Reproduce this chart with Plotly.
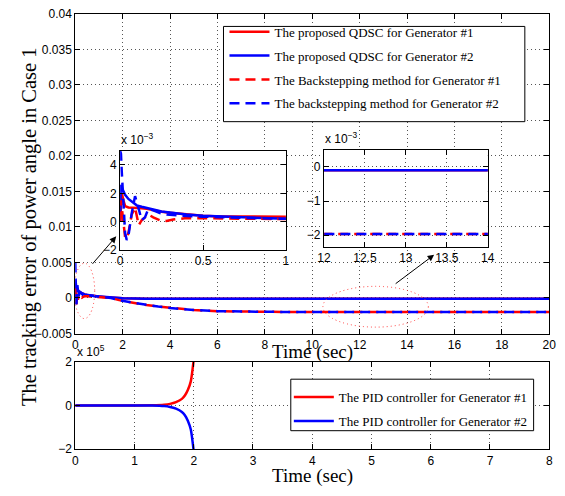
import plotly.graph_objects as go

# ---------------- data ----------------
SCALE_ERR = 1e-3   # values below are in units of 1e-3
SCALE_PID = 1e5    # PID values are in units of 1e5

t_qdsc = [0, 0.004, 0.01, 0.02, 0.03, 0.05, 0.08, 0.1, 0.13, 0.16, 0.2, 0.25, 0.3,
          0.4, 0.5, 0.6, 0.7, 0.8, 0.9, 1.0, 1.3, 1.6, 2.0, 3.0, 5.0, 10.0, 20.0]
qdsc_g1 = [0, 1.0, 2.0, 1.5, 1.1, 1.0, 1.0, 1.0, 0.95, 0.9, 0.8, 0.7, 0.62,
           0.5, 0.42, 0.36, 0.31, 0.27, 0.23, 0.2, 0.1, 0.02, -0.05, -0.1, -0.1, -0.1, -0.1]
qdsc_g2 = [0, 2.6, 2.4, 2.1, 1.9, 1.6, 1.3, 1.15, 1.05, 0.95, 0.85, 0.72, 0.63,
           0.5, 0.42, 0.36, 0.31, 0.27, 0.23, 0.2, 0.1, 0.02, -0.05, -0.1, -0.1, -0.1, -0.1]

t_bs = [0, 0.005, 0.01, 0.02, 0.03, 0.04, 0.05, 0.07, 0.09, 0.112, 0.13, 0.15, 0.17,
        0.2, 0.24, 0.28, 0.32, 0.4, 0.5, 0.6, 0.8, 1.0, 1.5, 1.85, 2.5, 3.0, 3.5,
        4.0, 4.5, 5.0, 6.0, 7.0, 8.0, 10.0, 14.0, 20.0]
bs_g1 = [0, 1.5, 1.0, -0.3, -1.1, -1.2, -0.8, 0.5, 1.0, -0.25, 0.1, 0.3, 0.5,
         0.3, 0.1, 0.05, 0.15, 0.25, 0.25, 0.22, 0.2, 0.18, 0.0, -0.3, -0.7, -1.0, -1.2,
         -1.4, -1.58, -1.7, -1.85, -1.92, -1.95, -1.97, -1.97, -1.97]
bs_g2 = [5.0, 4.8, 3.5, 1.0, -0.8, -1.3, -1.0, 0.6, 1.8, 0.9, 0.1, 0.3, 0.9,
         0.8, 0.6, 0.5, 0.45, 0.4, 0.35, 0.3, 0.25, 0.2, 0.0, -0.3, -0.7, -1.0, -1.2,
         -1.4, -1.58, -1.7, -1.85, -1.92, -1.95, -1.97, -1.97, -1.97]

t_pid = [0, 0.5, 1.0, 1.3, 1.5, 1.6, 1.7, 1.8, 1.85, 1.9, 1.95, 2.0]
pid_g1 = [0, 0, 0, 0.005, 0.03, 0.07, 0.15, 0.3, 0.45, 0.7, 1.1, 2.1]
pid_g2 = [0, 0, 0, -0.005, -0.03, -0.07, -0.15, -0.3, -0.45, -0.7, -1.1, -2.1]

names = ["The proposed QDSC for Generator #1", "The proposed QDSC for Generator #2",
         "The Backstepping method for Generator #1", "The backstepping method for Generator #2"]
pid_names = ["The PID controller for Generator #1", "The PID controller for Generator #2"]

main_yticks = [-0.005, 0, 0.005, 0.01, 0.015, 0.02, 0.025, 0.03, 0.035, 0.04]
main_yticktext = ["\u22120.005", "0", "0.005", "0.01", "0.015", "0.02", "0.025", "0.03", "0.035", "0.04"]

RED = "#ff0000"
BLUE = "#0000ff"
W, H = 565, 496

def px(x):
    return x / W

def py(y):
    return 1 - y / H

def sc(vals, s):
    return [v * s for v in vals]

series = [
    (t_qdsc, sc(qdsc_g1, SCALE_ERR), RED, "solid"),
    (t_qdsc, sc(qdsc_g2, SCALE_ERR), BLUE, "solid"),
    (t_bs, sc(bs_g1, SCALE_ERR), RED, "10px,6px"),
    (t_bs, sc(bs_g2, SCALE_ERR), BLUE, "10px,6px"),
]

fig = go.Figure()
for sub, show in [("", True), ("3", False), ("4", False)]:
    for i, (tx, ty, col, dash) in enumerate(series):
        fig.add_trace(go.Scatter(
            x=tx, y=ty, mode="lines", name=names[i], legendgroup=f"g{i}",
            showlegend=show, legend="legend",
            line=dict(color=col, width=2.5, dash=dash),
            xaxis="x" + sub, yaxis="y" + sub))

for i, (vals, col) in enumerate([(pid_g1, RED), (pid_g2, BLUE)]):
    fig.add_trace(go.Scatter(
        x=t_pid, y=sc(vals, SCALE_PID), mode="lines", name=pid_names[i],
        legendgroup=f"p{i}", legend="legend2",
        line=dict(color=col, width=2.5, shape="spline", smoothing=0.6),
        xaxis="x2", yaxis="y2"))

common = dict(showline=True, linecolor="black", linewidth=1, mirror="ticks",
              ticks="inside", ticklen=5, tickcolor="black", showgrid=True,
              gridcolor="#555", griddash="1px,3px", gridwidth=1, zeroline=False,
              tickfont=dict(family="Liberation Sans", size=12, color="black"))

legfont = dict(family="Liberation Serif", size=13, color="black", weight="normal")

fig.update_layout(
    width=W, height=H, margin=dict(l=0, r=0, t=0, b=0),
    paper_bgcolor="white", plot_bgcolor="white",
    xaxis=dict(domain=[px(70), px(556)], range=[0, 20], tickvals=list(range(0, 21, 2)),
               anchor="y", **common),
    yaxis=dict(domain=[py(336), py(7)], range=[-0.005, 0.04], tickvals=main_yticks,
               ticktext=main_yticktext, anchor="x", **common),
    xaxis2=dict(domain=[px(70), px(556)], range=[0, 8], tickvals=list(range(0, 9)),
                anchor="y2", **common),
    yaxis2=dict(domain=[py(455), py(365)], range=[-2e5, 2e5], tickvals=[-2e5, 0, 2e5],
                ticktext=["\u22122", "0", "2"], anchor="x2", **common),
    xaxis3=dict(domain=[px(116), px(286)], range=[0, 1], tickvals=[0, 0.5, 1],
                anchor="y3", **common),
    yaxis3=dict(domain=[py(250), py(148)], range=[-2e-3, 5e-3], tickvals=[-2e-3, 0, 2e-3, 4e-3],
                ticktext=["\u22122", "0", "2", "4"], anchor="x3", **common),
    xaxis4=dict(domain=[px(325), px(493)], range=[12, 14], tickvals=[12, 12.5, 13, 13.5, 14],
                anchor="y4", **common),
    yaxis4=dict(domain=[py(247), py(147)], range=[-2.35e-3, 0.5e-3], tickvals=[-2e-3, -1e-3, 0],
                ticktext=["\u22122", "\u22121", "0"], anchor="x4", **common),
    legend=dict(x=px(223), y=py(10), xanchor="left", yanchor="top",
                bgcolor="rgba(0,0,0,0)", borderwidth=0, tracegroupgap=4, itemwidth=40,
                font=legfont),
    legend2=dict(x=px(289), y=py(386), xanchor="left", yanchor="top",
                 bgcolor="rgba(0,0,0,0)", borderwidth=0, tracegroupgap=4, itemwidth=40,
                 font=legfont),
    showlegend=True,
)

ell = dict(color="rgb(255,60,60)", width=1, dash="1px,3px")
shapes = [
    dict(type="rect", xref="paper", yref="paper", x0=px(222), x1=px(531), y0=py(118), y1=py(20),
         fillcolor="white", line=dict(color="black", width=1), layer="above"),
    dict(type="rect", xref="paper", yref="paper", x0=px(291), x1=px(540), y0=py(436), y1=py(383),
         fillcolor="white", line=dict(color="black", width=1), layer="above"),
    dict(type="circle", xref="x", yref="y", x0=-0.05, x1=0.82, y0=-0.0029, y1=0.0049,
         line=ell, layer="above"),
    dict(type="circle", xref="x", yref="y", x0=10.45, x1=14.9, y0=-0.0041, y1=0.00164,
         line=ell, layer="above"),
]
fig.update_layout(shapes=shapes)

serif = dict(family="Liberation Serif", size=19, color="black", weight="normal")
ylab_font = dict(family="Liberation Serif", size=20.5, color="black", weight="normal")
sans = dict(family="Liberation Sans", size=12, color="black")
annotations = [
    dict(text="The tracking error of power angle in Case 1", textangle=-90, x=px(23), y=py(226),
         xref="paper", yref="paper", showarrow=False, font=ylab_font, xanchor="center", yanchor="middle"),
    dict(text="Time (sec)", x=px(313), y=py(355), xref="paper", yref="paper", showarrow=False,
         font=serif, xanchor="center", yanchor="middle"),
    dict(text="Time (sec)", x=px(313), y=py(483), xref="paper", yref="paper", showarrow=False,
         font=serif, xanchor="center", yanchor="middle"),
    dict(text="x 10<sup>\u22123</sup>", x=px(115), y=py(146), xref="paper", yref="paper",
         showarrow=False, font=sans, xanchor="left", yanchor="bottom"),
    dict(text="x 10<sup>\u22123</sup>", x=px(324), y=py(145), xref="paper", yref="paper",
         showarrow=False, font=sans, xanchor="left", yanchor="bottom"),
    dict(text="x 10<sup>5</sup>", x=px(70), y=py(364), xref="paper", yref="paper",
         showarrow=False, font=sans, xanchor="left", yanchor="bottom"),
    dict(text="", x=px(112), y=py(236), xref="paper", yref="paper", showarrow=True,
         ax=-25, ay=29, arrowhead=2, arrowsize=1.3, arrowwidth=1, arrowcolor="black"),
    dict(text="", x=px(438), y=py(255), xref="paper", yref="paper", showarrow=True,
         ax=-40, ay=30, arrowhead=2, arrowsize=1.3, arrowwidth=1, arrowcolor="black"),
]
fig.update_layout(annotations=annotations)

fig.write_html("out.html")
